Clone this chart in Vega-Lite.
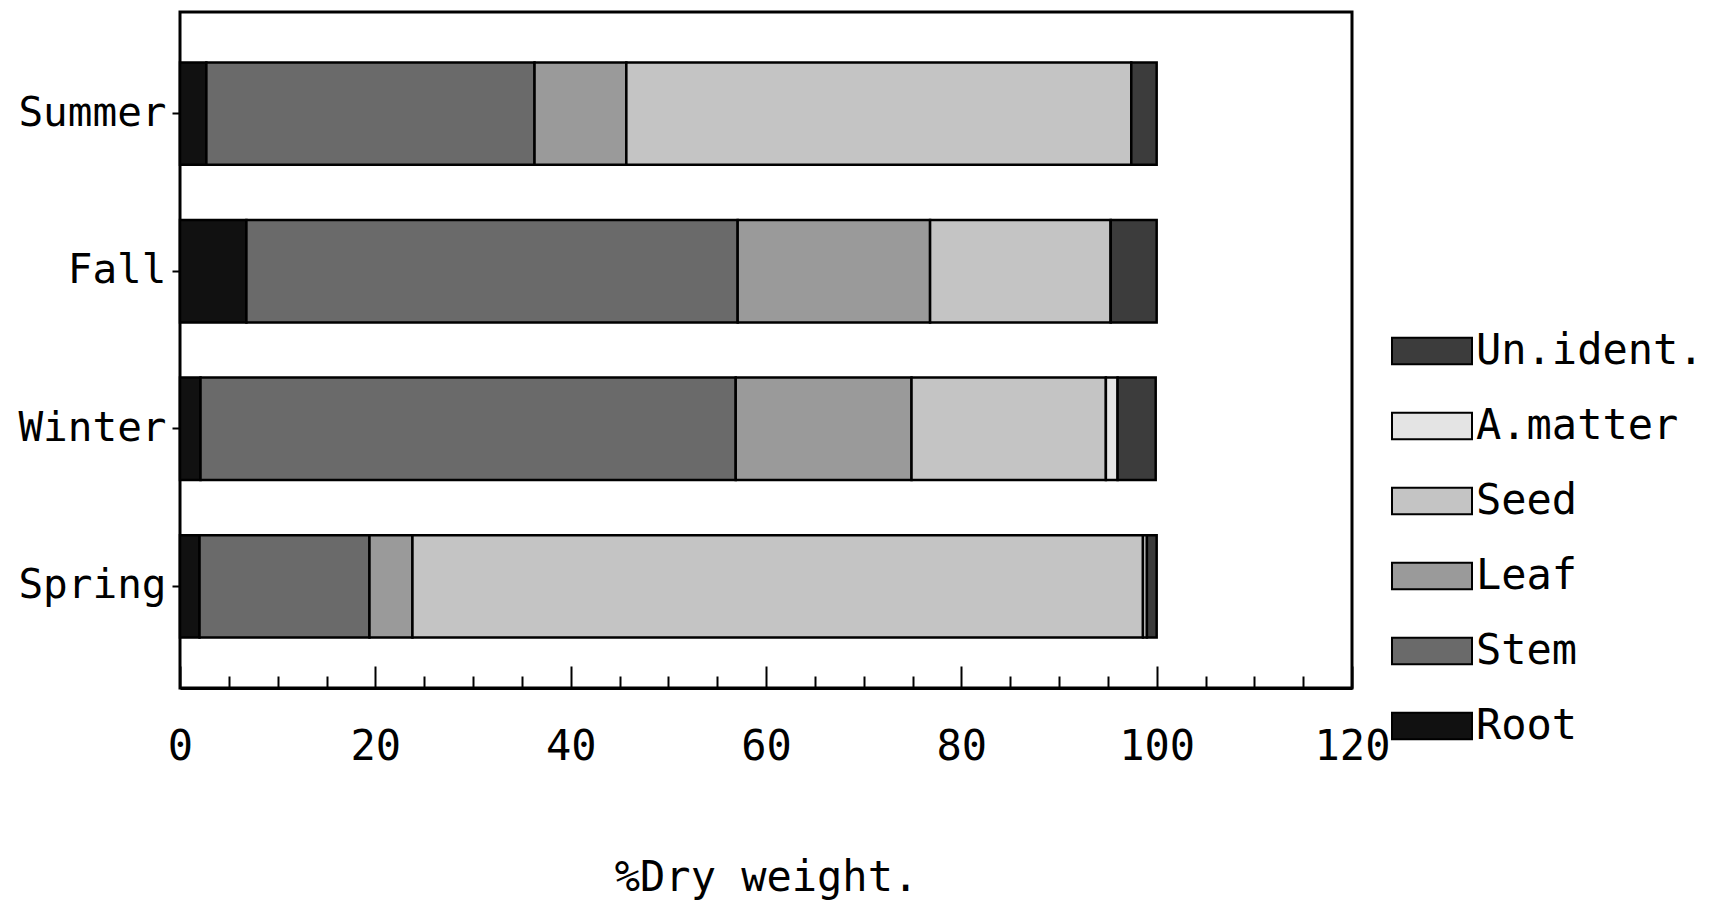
{
  "$schema": "https://vega.github.io/schema/vega-lite/v6.json",
  "width": 1172,
  "height": 676,
  "autosize": "none",
  "padding": {"left": 180, "top": 12, "right": 357, "bottom": 212},
  "background": "white",
  "config": {
    "font": "DejaVu Sans Mono",
    "view": {"stroke": "black", "strokeWidth": 3},
    "axis": {"labelColor": "black", "titleColor": "black", "domainColor": "black", "tickColor": "black", "labelFont": "DejaVu Sans Mono", "titleFont": "DejaVu Sans Mono", "titleFontWeight": "normal"},
    "legend": {"labelFont": "DejaVu Sans Mono", "labelColor": "black"}
  },
  "data": {
    "values": [
      {"season": "Summer", "part": "Root", "k": 1, "pct": 2.7},
      {"season": "Summer", "part": "Stem", "k": 2, "pct": 33.6},
      {"season": "Summer", "part": "Leaf", "k": 3, "pct": 9.4},
      {"season": "Summer", "part": "Seed", "k": 4, "pct": 51.7},
      {"season": "Summer", "part": "A.matter", "k": 5, "pct": 0},
      {"season": "Summer", "part": "Un.ident.", "k": 6, "pct": 2.6},
      {"season": "Fall", "part": "Root", "k": 1, "pct": 6.8},
      {"season": "Fall", "part": "Stem", "k": 2, "pct": 50.3},
      {"season": "Fall", "part": "Leaf", "k": 3, "pct": 19.7},
      {"season": "Fall", "part": "Seed", "k": 4, "pct": 18.5},
      {"season": "Fall", "part": "A.matter", "k": 5, "pct": 0},
      {"season": "Fall", "part": "Un.ident.", "k": 6, "pct": 4.7},
      {"season": "Winter", "part": "Root", "k": 1, "pct": 2.1},
      {"season": "Winter", "part": "Stem", "k": 2, "pct": 54.8},
      {"season": "Winter", "part": "Leaf", "k": 3, "pct": 18.0},
      {"season": "Winter", "part": "Seed", "k": 4, "pct": 19.9},
      {"season": "Winter", "part": "A.matter", "k": 5, "pct": 1.2},
      {"season": "Winter", "part": "Un.ident.", "k": 6, "pct": 3.9},
      {"season": "Spring", "part": "Root", "k": 1, "pct": 2.0},
      {"season": "Spring", "part": "Stem", "k": 2, "pct": 17.4},
      {"season": "Spring", "part": "Leaf", "k": 3, "pct": 4.4},
      {"season": "Spring", "part": "Seed", "k": 4, "pct": 74.8},
      {"season": "Spring", "part": "A.matter", "k": 5, "pct": 0.4},
      {"season": "Spring", "part": "Un.ident.", "k": 6, "pct": 1.0}
    ]
  },
  "mark": {"type": "bar", "stroke": "black", "strokeWidth": 2.5},
  "encoding": {
    "y": {
      "field": "season",
      "type": "nominal",
      "sort": ["Summer", "Fall", "Winter", "Spring"],
      "scale": {"paddingInner": 0.35, "paddingOuter": 0.32},
      "axis": {
        "title": null,
        "domain": false,
        "labelFontSize": 41,
        "labelPadding": 6,
        "tickSize": 8,
        "tickWidth": 2
      }
    },
    "x": {
      "field": "pct",
      "type": "quantitative",
      "stack": "zero",
      "scale": {"domain": [0, 120], "nice": false},
      "axis": {
        "title": "%Dry weight.",
        "titleFontSize": 42,
        "titlePadding": 80,
        "values": [0,5,10,15,20,25,30,35,40,45,50,55,60,65,70,75,80,85,90,95,100,105,110,115,120],
        "labelExpr": "datum.value % 20 === 0 ? datum.label : ''",
        "labelFontSize": 42,
        "labelPadding": 60,
        "labelFlush": false,
        "labelOverlap": false,
        "grid": false,
        "domainWidth": 3,
        "tickWidth": 2,
        "tickSize": {"condition": {"test": "datum.value % 20 === 0", "value": -22}, "value": -12}
      }
    },
    "color": {
      "field": "part",
      "type": "nominal",
      "scale": {
        "domain": ["Un.ident.", "A.matter", "Seed", "Leaf", "Stem", "Root"],
        "range": ["#3c3c3c", "#e4e4e4", "#c4c4c4", "#9a9a9a", "#6a6a6a", "#111111"]
      },
      "legend": {
        "title": null,
        "orient": "none",
        "legendX": 1211,
        "legendY": 298,
        "symbolType": "M-1,-0.33H1V0.33H-1Z",
        "symbolSize": 6400,
        "symbolStrokeColor": "black",
        "symbolStrokeWidth": 2,
        "symbolOpacity": 1,
        "labelFontSize": 42,
        "labelOffset": 3,
        "rowPadding": 13,
        "labelLimit": 400
      }
    },
    "order": {"field": "k", "type": "quantitative"}
  }
}
